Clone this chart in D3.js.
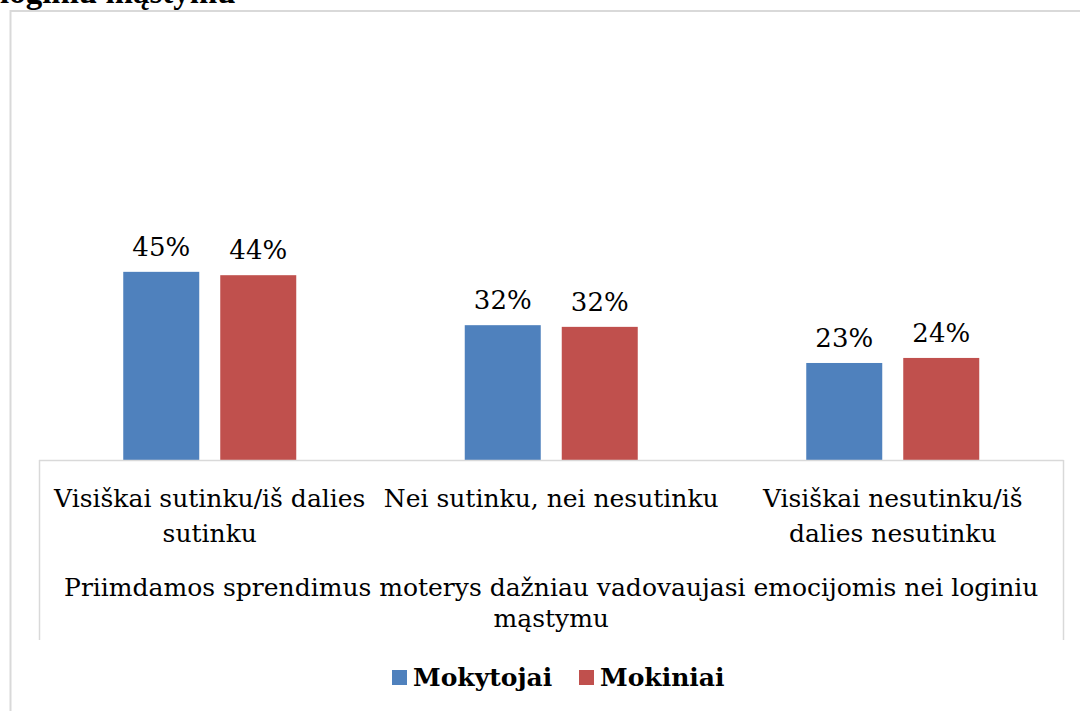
<!DOCTYPE html>
<html><head><meta charset="utf-8">
<script src="https://cdn.jsdelivr.net/npm/d3@7"></script>
<style>html,body{margin:0;padding:0;background:#fff;overflow:hidden}</style>
</head><body>
<svg id="chart" width="1080" height="711"></svg>
<script>
const categories = [["Visiškai sutinku/iš dalies", "sutinku"], ["Nei sutinku, nei nesutinku"], ["Visiškai nesutinku/iš", "dalies nesutinku"]];
const seriesNames = ["Mokytojai", "Mokiniai"];
const mokytojai = [44.8, 32.1, 23.1];
const mokiniai = [44.0, 31.7, 24.3];
const colors = ["#4F81BD", "#C0504D"];
const axisTitle = ["Priimdamos sprendimus moterys dažniau vadovaujasi emocijomis nei loginiu", "mąstymu"];
const titleText = "loginiu mąstymu";

const svg = d3.select("#chart");
const serif = "'DejaVu Serif', serif";

// outer frame
svg.append("rect").attr("x", 10.5).attr("y", 11).attr("width", 1100).attr("height", 800)
  .attr("fill", "none").attr("stroke", "#d9d9d9").attr("stroke-width", 2);

// title (cut off at top, as in the reference)
svg.append("text").attr("x", 0).attr("y", 3).text(titleText)
  .attr("font-family", "'Liberation Serif', serif").attr("font-weight", "bold").attr("font-size", 33).attr("fill", "#000");

const x0 = d3.scaleBand().domain(d3.range(categories.length)).range([39, 1063.5]).padding(0);
const x1 = d3.scaleBand().domain(seriesNames).range([84.25, 257.25]).paddingInner(21/97).paddingOuter(0);
const y = d3.scaleLinear().domain([0, 100]).range([460, 40]);

const data = categories.map((c, i) => ({i, vals: [mokytojai[i], mokiniai[i]]}));

const g = svg.selectAll("g.cat").data(data).join("g").attr("class", "cat")
  .attr("transform", d => `translate(${x0(d.i)},0)`);

g.selectAll("rect").data(d => d.vals.map((v, k) => ({v, k}))).join("rect")
  .attr("x", d => x1(seriesNames[d.k])).attr("width", x1.bandwidth())
  .attr("y", d => y(d.v)).attr("height", d => y(0) - y(d.v))
  .attr("fill", d => colors[d.k]);

g.selectAll("text.lbl").data(d => d.vals.map((v, k) => ({v, k}))).join("text").attr("class", "lbl")
  .attr("x", d => x1(seriesNames[d.k]) + x1.bandwidth() / 2).attr("y", d => y(d.v) - 16)
  .attr("text-anchor", "middle").attr("font-family", serif).attr("font-size", 26).attr("fill", "#000")
  .text(d => Math.round(d.v) + "%");

// axis box lines
const axisColor = "#d9d9d9";
svg.append("line").attr("x1", 39).attr("x2", 1063.5).attr("y1", 460.5).attr("y2", 460.5).attr("stroke", axisColor).attr("stroke-width", 1.5);
svg.append("line").attr("x1", 39.5).attr("x2", 39.5).attr("y1", 460).attr("y2", 640).attr("stroke", axisColor).attr("stroke-width", 1.5);
svg.append("line").attr("x1", 1063.5).attr("x2", 1063.5).attr("y1", 460).attr("y2", 640).attr("stroke", axisColor).attr("stroke-width", 1.5);

// category labels
const catText = svg.selectAll("text.cat").data(categories).join("text").attr("class", "cat")
  .attr("text-anchor", "middle").attr("font-family", serif).attr("font-size", 25).attr("fill", "#000");
catText.selectAll("tspan").data((d, i) => d.map(t => ({t, i}))).join("tspan")
  .attr("x", d => x0(d.i) + x0.bandwidth() / 2).attr("y", (d, j) => 507 + j * 35).text(d => d.t);

// axis title
svg.append("text").attr("text-anchor", "middle").attr("font-family", serif).attr("font-size", 25).attr("fill", "#000")
  .selectAll("tspan").data(axisTitle).join("tspan")
  .attr("x", (x0.range()[0] + x0.range()[1]) / 2).attr("y", (d, j) => 596 + j * 31).text(d => d);

// legend
const legendX = [392, 579];
const lg = svg.selectAll("g.leg").data(seriesNames).join("g").attr("class", "leg")
  .attr("transform", (d, i) => `translate(${legendX[i]},670)`);
lg.append("rect").attr("width", 15).attr("height", 15).attr("fill", (d, i) => colors[i]);
lg.append("text").attr("x", 21).attr("y", 16).text(d => d)
  .attr("font-family", serif).attr("font-weight", "bold").attr("font-size", 25).attr("fill", "#000");
</script>
</body></html>
